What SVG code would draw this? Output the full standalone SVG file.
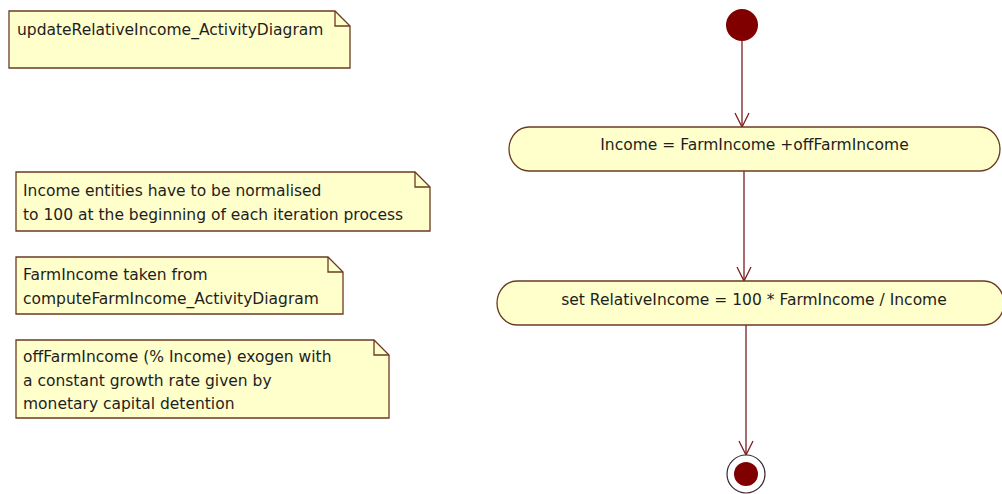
<svg xmlns="http://www.w3.org/2000/svg" width="1002" height="494" viewBox="0 0 1002 494">
<style>
  .note{fill:#FFFFCC;stroke:#6B3A22;stroke-width:1.3}
  .fold{fill:none;stroke:#6B3A22;stroke-width:1.3}
  .act{fill:#FFFFCC;stroke:#6B3A22;stroke-width:1.3}
  .t{font-family:"DejaVu Sans","Liberation Sans",sans-serif;font-size:15.5px;fill:#1E1E1E}
  .c{text-anchor:middle}
  .edge{stroke:#7A1E1E;stroke-width:1.3;fill:none}
</style>
<defs>
  <marker id="arr" markerUnits="userSpaceOnUse" markerWidth="20" markerHeight="20" refX="16" refY="8" orient="auto" viewBox="0 0 20 20">
    <path d="M2 1 L16 8 L2 15" fill="none" stroke="#7A1E1E" stroke-width="1.3"/>
  </marker>
</defs>
<rect width="1002" height="494" fill="#FFFFFF"/>

<g id="note-title">
  <path class="note" d="M9 11 H335 L350 26 V68 H9 Z"/>
  <path class="fold" d="M335 11 V26 H350"/>
  <text class="t" x="17" y="35">updateRelativeIncome_ActivityDiagram</text>
</g>

<g id="note-normalised">
  <path class="note" d="M16 172 H415 L430 187 V231 H16 Z"/>
  <path class="fold" d="M415 172 V187 H430"/>
  <text class="t" x="23" y="196">Income entities have to be normalised</text>
  <text class="t" x="23" y="220">to 100 at the beginning of each iteration process</text>
</g>

<g id="note-farmincome">
  <path class="note" d="M16 257 H328 L343 272 V314 H16 Z"/>
  <path class="fold" d="M328 257 V272 H343"/>
  <text class="t" x="23" y="280">FarmIncome taken from</text>
  <text class="t" x="23" y="304">computeFarmIncome_ActivityDiagram</text>
</g>

<g id="note-offfarm">
  <path class="note" d="M16 340 H374 L389 355 V418 H16 Z"/>
  <path class="fold" d="M374 340 V355 H389"/>
  <text class="t" x="23" y="362">offFarmIncome (% Income) exogen with</text>
  <text class="t" x="23" y="386">a constant growth rate given by</text>
  <text class="t" x="23" y="409">monetary capital detention</text>
</g>

<g id="edges">
  <line class="edge" x1="742" y1="41" x2="742" y2="127" marker-end="url(#arr)"/>
  <line class="edge" x1="744" y1="171" x2="744" y2="281" marker-end="url(#arr)"/>
  <line class="edge" x1="746" y1="325" x2="746" y2="455" marker-end="url(#arr)"/>
</g>

<g id="start">
  <circle cx="742" cy="25" r="16" fill="#800000"/>
</g>

<g id="act-income">
  <rect class="act" x="509" y="127" width="491" height="44" rx="20" ry="22"/>
  <text class="t c" x="754.5" y="150">Income = FarmIncome +offFarmIncome</text>
</g>

<g id="act-relative">
  <rect class="act" x="497" y="281" width="507" height="44" rx="20" ry="22"/>
  <text class="t c" x="754" y="305">set RelativeIncome = 100 * FarmIncome / Income</text>
</g>

<g id="end">
  <circle cx="746" cy="474" r="19" fill="#FFFFFF" stroke="#3A2A2A" stroke-width="1.2"/>
  <circle cx="746" cy="474" r="12" fill="#800000"/>
</g>
</svg>
